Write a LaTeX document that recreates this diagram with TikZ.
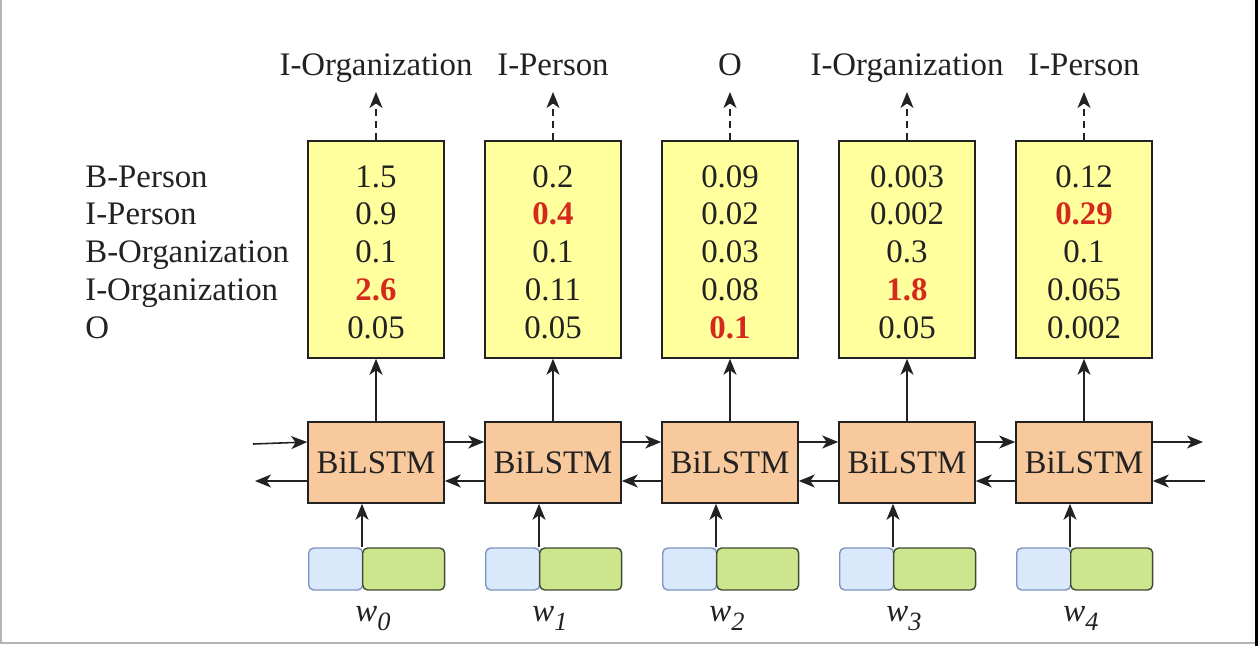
\documentclass[tikz,border=0pt]{standalone}
\usepackage{fontspec}
\setmainfont{Liberation Serif}
\usetikzlibrary{arrows.meta}
\definecolor{inkgray}{HTML}{222222}
\definecolor{scoreyellow}{HTML}{FFFF9E}
\definecolor{lstmpeach}{HTML}{F8C99C}
\definecolor{charblue}{HTML}{DAE8FC}
\definecolor{charedge}{HTML}{7D95BE}
\definecolor{wordgreen}{HTML}{CDE68D}
\definecolor{wordedge}{HTML}{3E4A33}
\definecolor{bestred}{HTML}{D42A1E}
\definecolor{framegray}{HTML}{B4B4B4}
\newcommand{\tagfont}{\fontsize{18.7}{22}\selectfont}
\newcommand{\best}[1]{\textbf{\color{bestred}#1}}
\newcommand{\wrd}[1]{\textit{w}\raisebox{-0.3em}{\fontsize{15}{15}\selectfont\textit{#1}}}

\begin{document}
\begin{tikzpicture}[x=0.02cm, y=-0.02cm, font=\tagfont, text=inkgray, inner sep=0pt,
  scorebox/.style={draw=inkgray, fill=scoreyellow, line width=0.9pt, minimum width=2.72cm, minimum height=4.34cm},
  lstmbox/.style={draw=inkgray, fill=lstmpeach, line width=0.9pt, minimum width=2.72cm, minimum height=1.62cm},
  charbox/.style={draw=charedge, fill=charblue, rounded corners=1mm, line width=0.8pt, minimum width=1.08cm, minimum height=0.84cm, anchor=west},
  wordbox/.style={draw=wordedge, fill=wordgreen, rounded corners=1mm, line width=0.8pt, minimum width=1.64cm, minimum height=0.84cm, anchor=west},
  arr/.style={-{Stealth[length=3.2mm,width=2.6mm,inset=0.9mm]}, line width=0.9pt, draw=inkgray}]
  \useasboundingbox (0,0) rectangle (1258,646);
  % frame of the screenshot
  \draw[framegray, line width=0.05cm] (1,0) -- (1,643) -- (1258,643);
  \draw[line width=0.06cm] (1256.5,0) -- (1256.5,646);

  % tag names on the left
  \foreach \name [count=\r] in {B-Person,I-Person,B-Organization,I-Organization,O}
    \node[anchor=base west] (tag\r) at (85,{187+37.75*(\r-1)}) {\name};

  % one column per word
  \foreach \i/\pick/\va/\vb/\vc/\vd/\ve in {
      0/I-Organization/1.5/0.9/0.1/\best{2.6}/0.05,
      1/I-Person/0.2/\best{0.4}/0.1/0.11/0.05,
      2/O/0.09/0.02/0.03/0.08/\best{0.1},
      3/I-Organization/0.003/0.002/0.3/\best{1.8}/0.05,
      4/I-Person/0.12/\best{0.29}/0.1/0.065/0.002} {
    \pgfmathsetmacro\cx{376+177*\i}
    \node[scorebox] (score\i) at (\cx,249.5) {};
    \foreach \v [count=\r] in {\va,\vb,\vc,\vd,\ve}
      \node[anchor=base] (val\i-\r) at (\cx,{187+37.75*(\r-1)}) {\v};
    \node[lstmbox] (lstm\i) at (\cx,462.5) {BiLSTM};
    \node[charbox] (char\i) at (\cx-68,569) {};
    \node[wordbox] (word\i) at (\cx-14,569) {};
    \node[anchor=base] (w\i) at (\cx-3,621) {\wrd{\i}};
    \node[anchor=base] (pick\i) at (\cx,75) {\pick};
    \coordinate (up\i) at (\cx,92);
    \draw[arr, dash pattern=on 4pt off 3pt] (score\i.north) -- (up\i);
    \draw[arr] (lstm\i.north) -- (score\i.south);
    \draw[arr] (word\i.north west) -- (word\i.north west |- lstm\i.south);
  }

  % recurrent links
  \foreach \i/\j in {0/1,1/2,2/3,3/4} {
    \draw[arr] ([yshift=0.41cm]lstm\i.east) -- ([yshift=0.41cm]lstm\j.west);
    \draw[arr] ([yshift=-0.37cm]lstm\j.west) -- ([yshift=-0.37cm]lstm\i.east);
  }
  \coordinate (inL) at (253,444);
  \coordinate (outL) at (255,481);
  \coordinate (outR) at (1203,442);
  \coordinate (inR) at (1205,481);
  \draw[arr] (inL) -- ([yshift=0.41cm]lstm0.west);
  \draw[arr] (outL -| lstm0.west) -- (outL);
  \draw[arr] (outR -| lstm4.east) -- (outR);
  \draw[arr] (inR) -- (inR -| lstm4.east);
\end{tikzpicture}
\end{document}
